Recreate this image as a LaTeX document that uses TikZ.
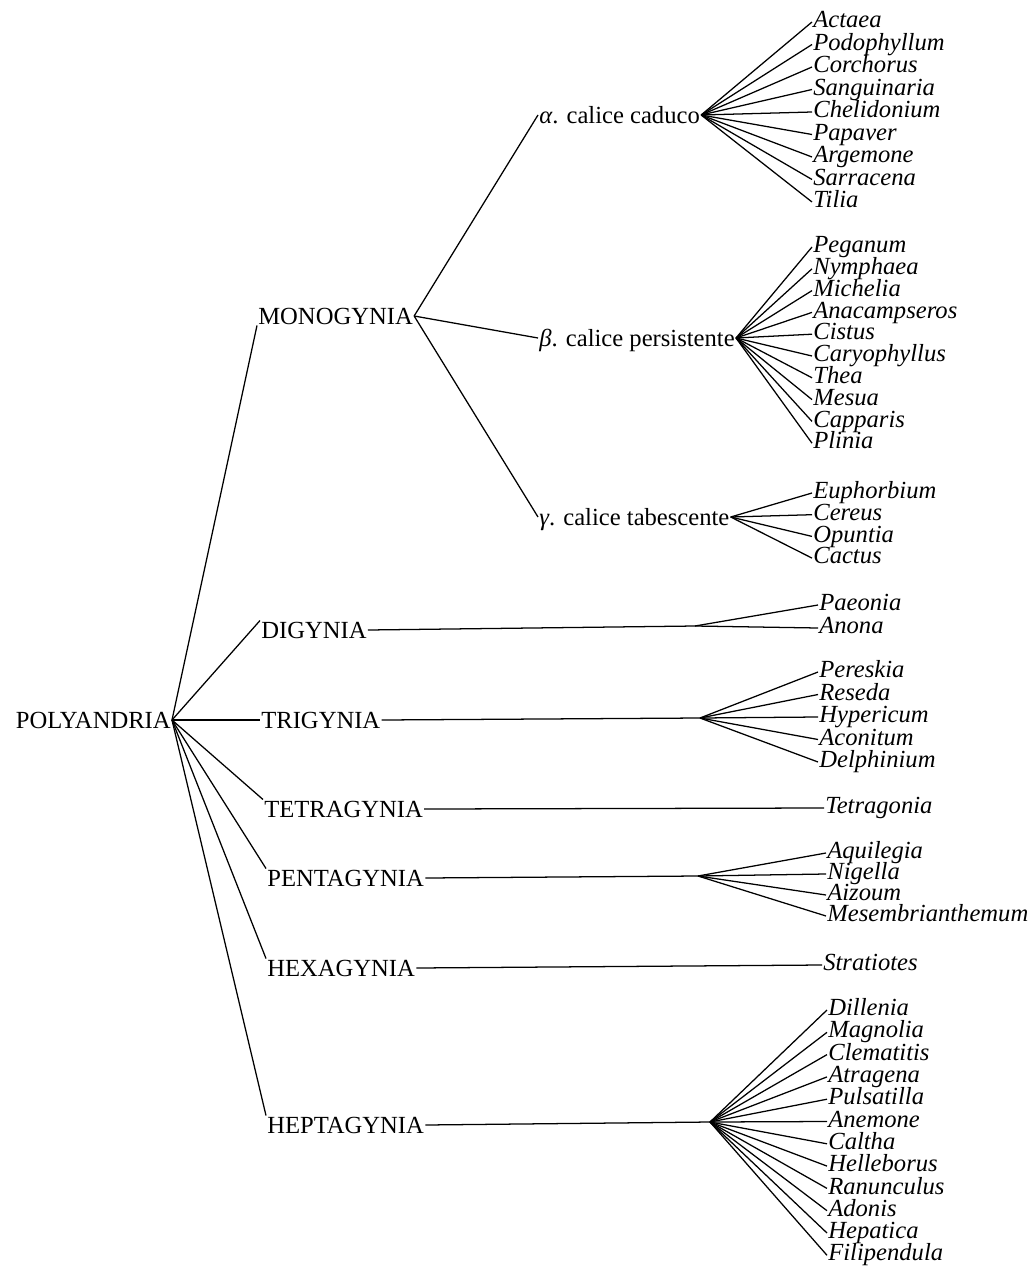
\documentclass[tikz,border=0pt]{standalone}
\usepackage{fontspec}
\setmainfont{Liberation Serif}
\usetikzlibrary{calc}

\begin{document}
\begin{tikzpicture}[x=0.025cm,y=-0.025cm,line width=0.9pt,
  rank/.style={inner sep=0.5pt,text height=11.6pt,text depth=0pt,font=\fontsize{17.5}{18}\selectfont},
  leaf/.style={anchor=west,inner sep=0.5pt,text height=11pt,text depth=3pt,font=\fontsize{17.5}{18}\selectfont\itshape}]
  \useasboundingbox (0,0) rectangle (1030,1268);
  % class and orders
  \node[rank,anchor=east] (poly) at (172,720) {POLYANDRIA};
  \node[rank,anchor=west] (mono) at (257,316) {MONOGYNIA};
  \node[rank,anchor=west] (di) at (260,630) {DIGYNIA};
  \node[rank,anchor=west] (tri) at (260,720) {TRIGYNIA};
  \node[rank,anchor=west] (tetra) at (263,809) {TETRAGYNIA};
  \node[rank,anchor=west] (penta) at (266,878) {PENTAGYNIA};
  \node[rank,anchor=west] (hexa) at (266,968) {HEXAGYNIA};
  \node[rank,anchor=west] (hepta) at (266,1125) {HEPTAGYNIA};
  \draw (poly.east) -- (mono.south west);
  \draw (poly.east) -- (di.north west);
  \draw (poly.east) -- (tri.west);
  \foreach \o in {tetra,penta,hexa,hepta}
    \draw (poly.east) -- (\o.north west);
  % sections of monogynia
  \node[rank,anchor=west] (alpha) at (538,115) {\textit{α}. calice caduco};
  \node[rank,anchor=west] (beta) at (538,338) {\textit{β}. calice persistente};
  \node[rank,anchor=west] (gamma) at (538,517) {\textit{γ}. calice tabescente};
  \draw (mono.east) -- (alpha.west);
  \draw (mono.east) -- (beta.west);
  \draw (mono.east) -- (gamma.west);
  % genera
  \foreach \g [count=\i from 0] in {Actaea,Podophyllum,Corchorus,Sanguinaria,Chelidonium,Papaver,Argemone,Sarracena,Tilia}{
    \node[leaf] (a\i) at (812,22+22.5*\i) {\g};
    \draw (alpha.east) -- (a\i.west);}
  \foreach \g [count=\i from 0] in {Peganum,Nymphaea,Michelia,Anacampseros,Cistus,Caryophyllus,Thea,Mesua,Capparis,Plinia}{
    \node[leaf] (b\i) at (812,247+21.8*\i) {\g};
    \draw (beta.east) -- (b\i.west);}
  \foreach \g [count=\i from 0] in {Euphorbium,Cereus,Opuntia,Cactus}{
    \node[leaf] (c\i) at (812,493+21.7*\i) {\g};
    \draw (gamma.east) -- (c\i.west);}
  \coordinate (difork) at (695,626);
  \draw (di.east) -- (difork);
  \foreach \g [count=\i from 0] in {Paeonia,Anona}{
    \node[leaf] (d\i) at (818,605+23*\i) {\g};
    \draw (difork) -- (d\i.west);}
  \coordinate (trifork) at (700,718);
  \draw (tri.east) -- (trifork);
  \foreach \g [count=\i from 0] in {Pereskia,Reseda,Hypericum,Aconitum,Delphinium}{
    \node[leaf] (t\i) at (818,672+22.5*\i) {\g};
    \draw (trifork) -- (t\i.west);}
  \node[leaf] (tetragonia) at (824,808) {Tetragonia};
  \draw (tetra.east) -- (tetragonia.west);
  \coordinate (pentafork) at (698,876);
  \draw (penta.east) -- (pentafork);
  \foreach \g [count=\i from 0] in {Aquilegia,Nigella,Aizoum,Mesembrianthemum}{
    \node[leaf] (p\i) at (826,853+21*\i) {\g};
    \draw (pentafork) -- (p\i.west);}
  \node[leaf] (stratiotes) at (822,965) {Stratiotes};
  \draw (hexa.east) -- (stratiotes.west);
  \coordinate (heptafork) at (710,1122);
  \draw (hepta.east) -- (heptafork);
  \foreach \g [count=\i from 0] in {Dillenia,Magnolia,Clematitis,Atragena,Pulsatilla,Anemone,Caltha,Helleborus,Ranunculus,Adonis,Hepatica,Filipendula}{
    \node[leaf] (h\i) at (827,1010+22.3*\i) {\g};
    \draw (heptafork) -- (h\i.west);}
\end{tikzpicture}
\end{document}
